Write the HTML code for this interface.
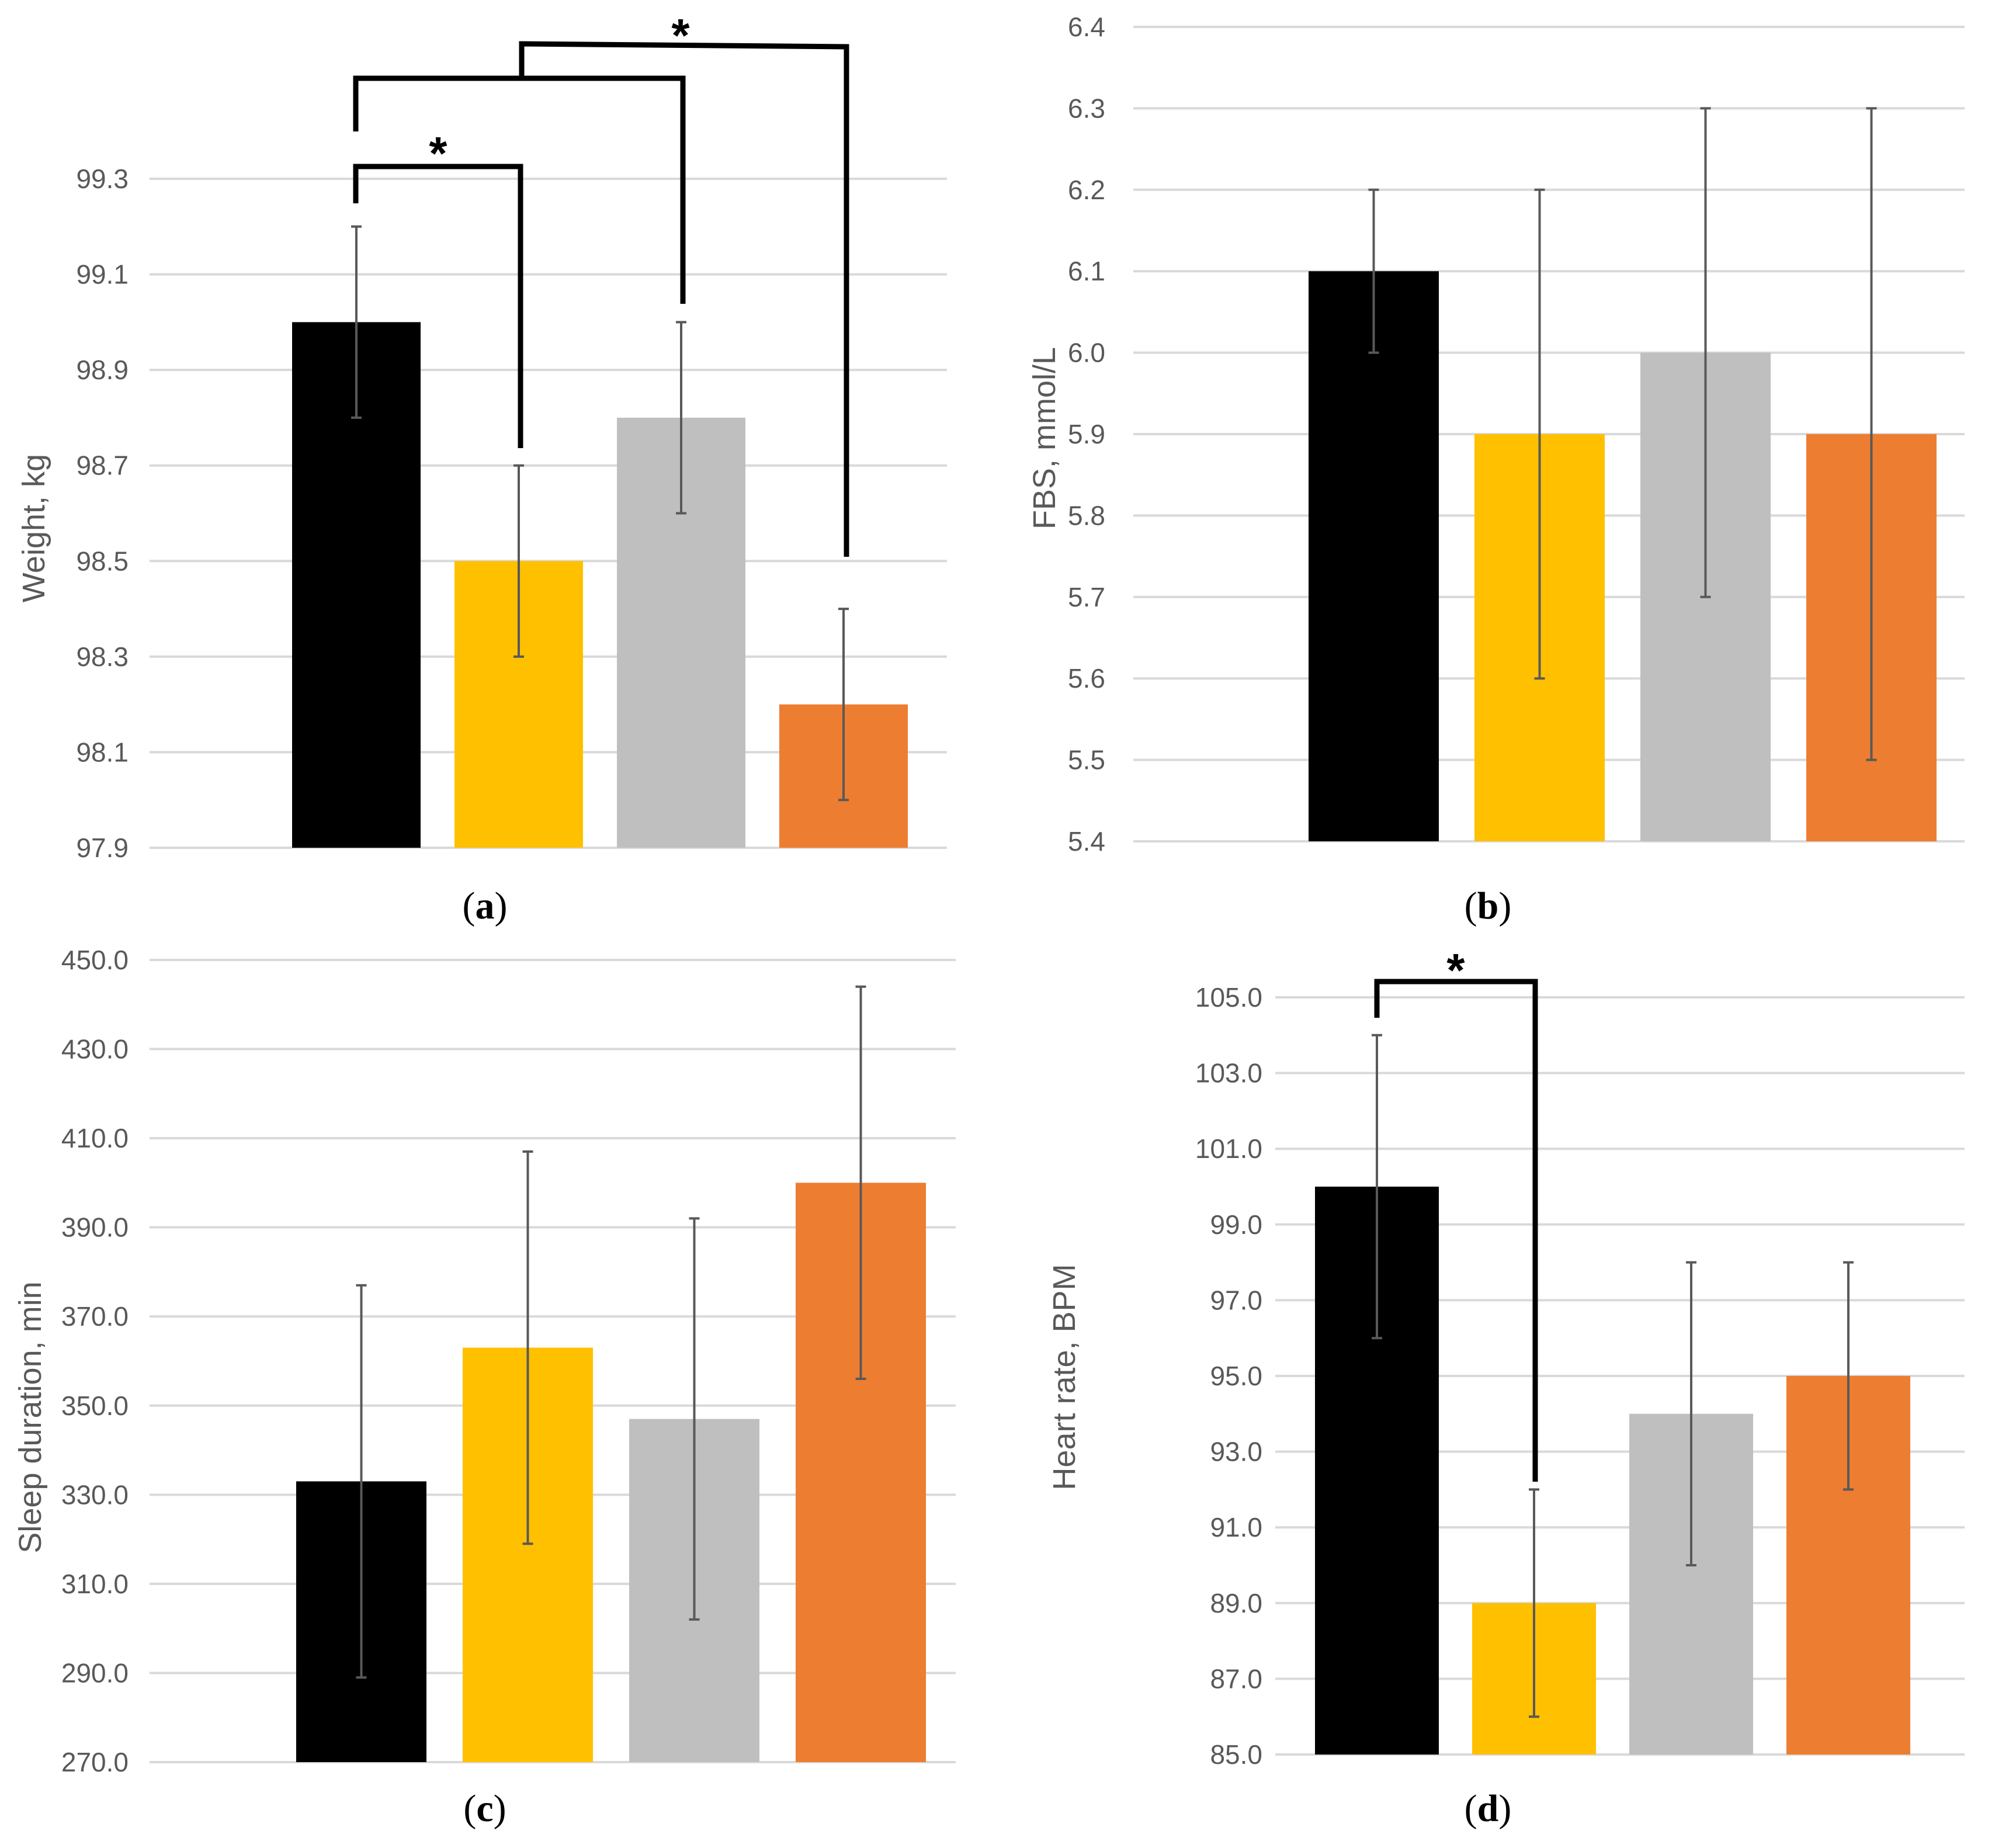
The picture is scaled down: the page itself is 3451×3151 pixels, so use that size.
<!DOCTYPE html>
<html><head><meta charset="utf-8"><style>
html,body{margin:0;padding:0;background:#fff;}
svg{display:block;}
text{font-family:"Liberation Sans",Arial,sans-serif;}
</style></head><body>
<svg id="fig" width="3451" height="3151" viewBox="0 0 3451 3151" xmlns="http://www.w3.org/2000/svg">
<rect width="3451" height="3151" fill="#fff"/>
</svg>
<script>
// ---- data ----
const groupColors = ["#000000", "#FFC000", "#BFBFBF", "#ED7D31"];
const weightValues = [99.0, 98.5, 98.8, 98.2];
const weightErrors = [0.2, 0.2, 0.2, 0.2];
const weightTicks = ["97.9","98.1","98.3","98.5","98.7","98.9","99.1","99.3"];
const fbsValues = [6.1, 5.9, 6.0, 5.9];
const fbsErrors = [0.1, 0.3, 0.3, 0.4];
const fbsTicks = ["5.4","5.5","5.6","5.7","5.8","5.9","6.0","6.1","6.2","6.3","6.4"];
const sleepValues = [333, 363, 347, 400];
const sleepErrors = [44, 44, 45, 44];
const sleepTicks = ["270.0","290.0","310.0","330.0","350.0","370.0","390.0","410.0","430.0","450.0"];
const hrValues = [100, 89, 94, 95];
const hrErrors = [4, 3, 4, 3];
const hrTicks = ["85.0","87.0","89.0","91.0","93.0","95.0","97.0","99.0","101.0","103.0","105.0"];

const svg = document.getElementById('fig');
const NS = "http://www.w3.org/2000/svg";
function mk(tag, attrs, parent){
  const e = document.createElementNS(NS, tag);
  for (const k in attrs) e.setAttribute(k, attrs[k]);
  (parent||svg).appendChild(e);
  return e;
}

function panel(cfg){
  const g = mk('g', {});
  
  
  const ticks = cfg.ticks.map(Number);
  const vmin = ticks[0], vmax = ticks[ticks.length-1];
  const y = v => cfg.yBottom + (v - vmin) / (vmax - vmin) * (cfg.yTop - cfg.yBottom);
  cfg.ticks.forEach((t, i) => {
    const gl = mk('line', {x1: cfg.gx0, x2: cfg.gx1, y1: y(ticks[i]), y2: y(ticks[i]), stroke: '#d9d9d9', 'stroke-width': 4}, g);
    
    
    const tl = mk('text', {x: cfg.labelX, y: y(ticks[i]) + 16, 'text-anchor': 'end', 'font-size': 46, fill: '#595959'}, g);
    tl.textContent = t;
    
    
  });
  cfg.values.forEach((v, i) => {
    const x0 = cfg.bx0 + i * cfg.bstep;
    const b = mk('rect', {x: x0, y: y(v), width: cfg.bw, height: y(vmin) - y(v), fill: groupColors[i]}, g);
    
    
  });
  cfg.values.forEach((v, i) => {
    const cx = cfg.bx0 + i * cfg.bstep + cfg.bw/2;
    const e = cfg.errors[i];
    const eg = mk('g', {stroke: '#595959', 'stroke-width': 4}, g);
    
    
    mk('line', {x1: cx, x2: cx, y1: y(v+e), y2: y(v-e)}, eg);
    mk('line', {x1: cx-9, x2: cx+9, y1: y(v+e), y2: y(v+e)}, eg);
    mk('line', {x1: cx-9, x2: cx+9, y1: y(v-e), y2: y(v-e)}, eg);
  });
  const tt = mk('text', {x: 0, y: 0, 'text-anchor': 'middle', 'font-size': 54, fill: '#595959',
    transform: `translate(${cfg.titleX},${cfg.titleY}) rotate(-90)`}, g);
  tt.textContent = cfg.title;
  
  
  const pl = mk('text', {x: cfg.plX, y: cfg.plY, 'text-anchor': 'middle', 'font-size': 66, fill: '#000',
    style: 'font-family:"Liberation Serif",serif'}, g);
  pl.innerHTML = '(<tspan font-weight="bold">' + cfg.letter + '</tspan>)';
  
  
  return {g, y};
}

function bracket(pts, parent){
  const p = mk('polyline', {points: pts.map(a=>a.join(',')).join(' '), fill: 'none', stroke: '#000', 'stroke-width': 9, 'stroke-linejoin': 'miter'}, parent);
  
  
}
function star(x, yy, parent){
  const s = mk('text', {x: x, y: yy, 'text-anchor': 'middle', 'font-size': 80, 'font-weight': 'bold', fill: '#000'}, parent);
  s.textContent = '*';
  
  
}

const A = panel({name: 'panel-a-weight', ticks: weightTicks, values: weightValues, errors: weightErrors,
  yBottom: 1451, yTop: 306, gx0: 256, gx1: 1621, labelX: 220, bx0: 500, bw: 220, bstep: 278,
  title: 'Weight, kg', titleX: 76, titleY: 904, plX: 830, plY: 1572, letter: 'a'});
bracket([[609,348],[609,285],[891,285],[891,767]], A.g);
bracket([[609,225],[609,134],[1169,134],[1169,520]], A.g);
bracket([[893,134],[893,75],[1449,80],[1449,953]], A.g);
star(750, 290, A.g);
star(1165, 88, A.g);

const B = panel({name: 'panel-b-fbs', ticks: fbsTicks, values: fbsValues, errors: fbsErrors,
  yBottom: 1440, yTop: 46, gx0: 1940, gx1: 3363, labelX: 1892, bx0: 2240, bw: 223, bstep: 284,
  title: 'FBS, mmol/L', titleX: 1806, titleY: 750, plX: 2547, plY: 1572, letter: 'b'});

const C = panel({name: 'panel-c-sleep', ticks: sleepTicks, values: sleepValues, errors: sleepErrors,
  yBottom: 3016, yTop: 1643, gx0: 256, gx1: 1636, labelX: 220, bx0: 507, bw: 223, bstep: 285,
  title: 'Sleep duration, min', titleX: 70, titleY: 2426, plX: 830, plY: 3117, letter: 'c'});

const D = panel({name: 'panel-d-heart-rate', ticks: hrTicks, values: hrValues, errors: hrErrors,
  yBottom: 3003, yTop: 1707, gx0: 2183, gx1: 3363, labelX: 2161, bx0: 2251, bw: 212, bstep: 269,
  title: 'Heart rate, BPM', titleX: 1840, titleY: 2357, plX: 2547, plY: 3117, letter: 'd'});
bracket([[2357,1742],[2357,1680],[2628,1680],[2628,2536]], D.g);
star(2492, 1688, D.g);
</script>
</body></html>
